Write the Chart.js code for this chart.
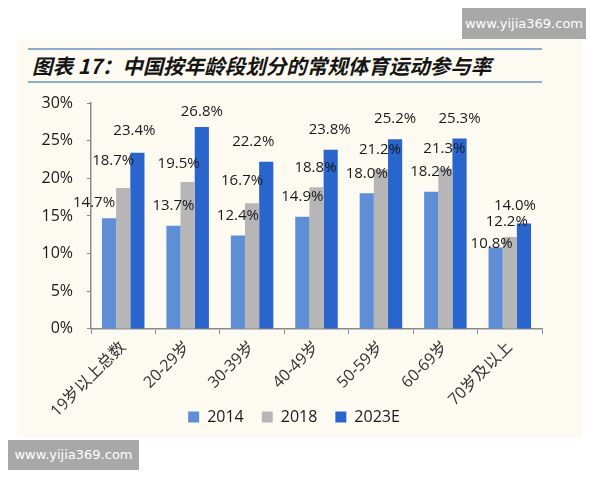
<!DOCTYPE html>
<html>
<head>
<meta charset="utf-8">
<script src="https://cdn.jsdelivr.net/npm/chart.js@4"></script>
<style>
  html, body { margin: 0; padding: 0; background: #fff; }
  #wrap { position: relative; width: 600px; height: 480px; overflow: hidden; }
  .paper { position: absolute; left: 17px; top: 39px; width: 565px; height: 399px; background: #fdfbf1; }
  .rule { position: absolute; left: 28px; width: 514px; height: 2px; background: #8eaccb; }
  .title { position: absolute; left: 32px; top: 50px; font: italic 700 20.5px "Noto Sans CJK SC", sans-serif; color: #151515; white-space: nowrap; }
  .mark { position: absolute; background: #a8a8a8; color: #fff; font: 13px "DejaVu Sans", sans-serif; text-align: center; }
  canvas { position: absolute; left: 0; top: 0; }
</style>
</head>
<body>
<div id="wrap">
  <div class="paper"></div>
  <div class="mark" style="left:462px;top:8px;width:124px;height:31px;line-height:31px;">www.yijia369.com</div>
  <div class="rule" style="top:48px"></div>
  <div class="title">图表 17：中国按年龄段划分的常规体育运动参与率</div>
  <div class="rule" style="top:81px"></div>
  <div class="mark" style="left:8px;top:440px;width:131px;height:30px;line-height:30px;">www.yijia369.com</div>
  <canvas id="myChart" width="600" height="480"></canvas>
</div>
<script>
const categories = ['19岁以上总数', '20-29岁', '30-39岁', '40-49岁', '50-59岁', '60-69岁', '70岁及以上']
const years = ['2014', '2018', '2023E']
const values2014 = [14.7, 13.7, 12.4, 14.9, 18.0, 18.2, 10.8]
const values2018 = [18.7, 19.5, 16.7, 18.8, 21.2, 21.3, 12.2]
const values2023 = [23.4, 26.8, 22.2, 23.8, 25.2, 25.3, 14.0]
const yTicks = [0, 5, 10, 15, 20, 25, 30]

const colors = ['#5e8fd6', '#b6b6b6', '#2965cc']

// label nudges [dx, dy above bar top], as the labels were moved by hand in the original
const labelNudge = [
  [[-15, 15], [0, 20], [0, 20], [0, 20], [0, 20], [0, 20], [-4, 4]],
  [[-10, 27], [-9, 18], [-10, 22], [-1, 20], [-1, 20], [-1, 20], [-3, 15]],
  [[-3, 22], [0, 15], [-13, 20], [-1, 20], [0, 20], [0, 20], [-9, 18]]
]

const valueLabels = {
  id: 'valueLabels',
  afterDatasetsDraw(chart) {
    const ctx = chart.ctx
    ctx.save()
    ctx.font = '15px "Open Sans"'
    ctx.fillStyle = '#1a1a1a'
    ctx.textAlign = 'center'
    ctx.textBaseline = 'middle'
    chart.data.datasets.forEach((ds, di) => {
      chart.getDatasetMeta(di).data.forEach((bar, i) => {
        const [dx, dy] = labelNudge[di][i]
        ctx.fillText(ds.data[i].toFixed(1) + '%', bar.x + dx, bar.y - dy)
      })
    })
    ctx.restore()
  }
}

// in the original the legend sits up beside the slanted labels, a bit right of centre
const legendShift = {
  id: 'legendShift',
  afterLayout(chart) {
    const lg = chart.legend
    lg.left += 23
    lg.right += 23
    lg.top -= 34
    lg.bottom -= 34
  }
}

const ctx = document.getElementById('myChart').getContext('2d')
const myChart = new Chart(ctx, {
  type: 'bar',
  data: {
    labels: categories,
    datasets: [values2014, values2018, values2023].map((vals, i) => ({
      label: years[i],
      data: vals,
      backgroundColor: colors[i],
      borderWidth: 0,
      categoryPercentage: 0.66,
      barPercentage: 1
    }))
  },
  options: {
    responsive: false,
    animation: false,
    layout: { padding: { left: 0, right: 58, top: 103, bottom: 11 } },
    plugins: {
      tooltip: { enabled: false },
      legend: {
        position: 'bottom',
        labels: {
          boxWidth: 11,
          boxHeight: 11,
          padding: 18,
          color: '#1a1a1a',
          font: { family: '"Open Sans"', size: 16 }
        }
      }
    },
    scales: {
      x: {
        grid: { display: true, drawOnChartArea: false, tickLength: 5, color: '#8a8a8a' },
        border: { display: true, color: '#8a8a8a', width: 1.5 },
        ticks: {
          autoSkip: false,
          minRotation: 45,
          maxRotation: 45,
          padding: 4,
          color: '#333',
          font: { family: '"Open Sans", "Noto Sans CJK SC"', size: 16 }
        }
      },
      y: {
        min: 0,
        max: 30,
        afterBuildTicks: s => { s.ticks = yTicks.map(v => ({ value: v })) },
        grid: { display: true, drawOnChartArea: false, tickLength: 4, color: '#8a8a8a' },
        border: { display: true, color: '#8a8a8a', width: 1.5 },
        ticks: {
          padding: 14,
          color: '#1a1a1a',
          font: { family: '"Open Sans"', size: 16 },
          callback: v => v + '%'
        },
        afterFit: s => { s.width = 91 }
      }
    }
  },
  plugins: [valueLabels, legendShift]
})
</script>
</body>
</html>
